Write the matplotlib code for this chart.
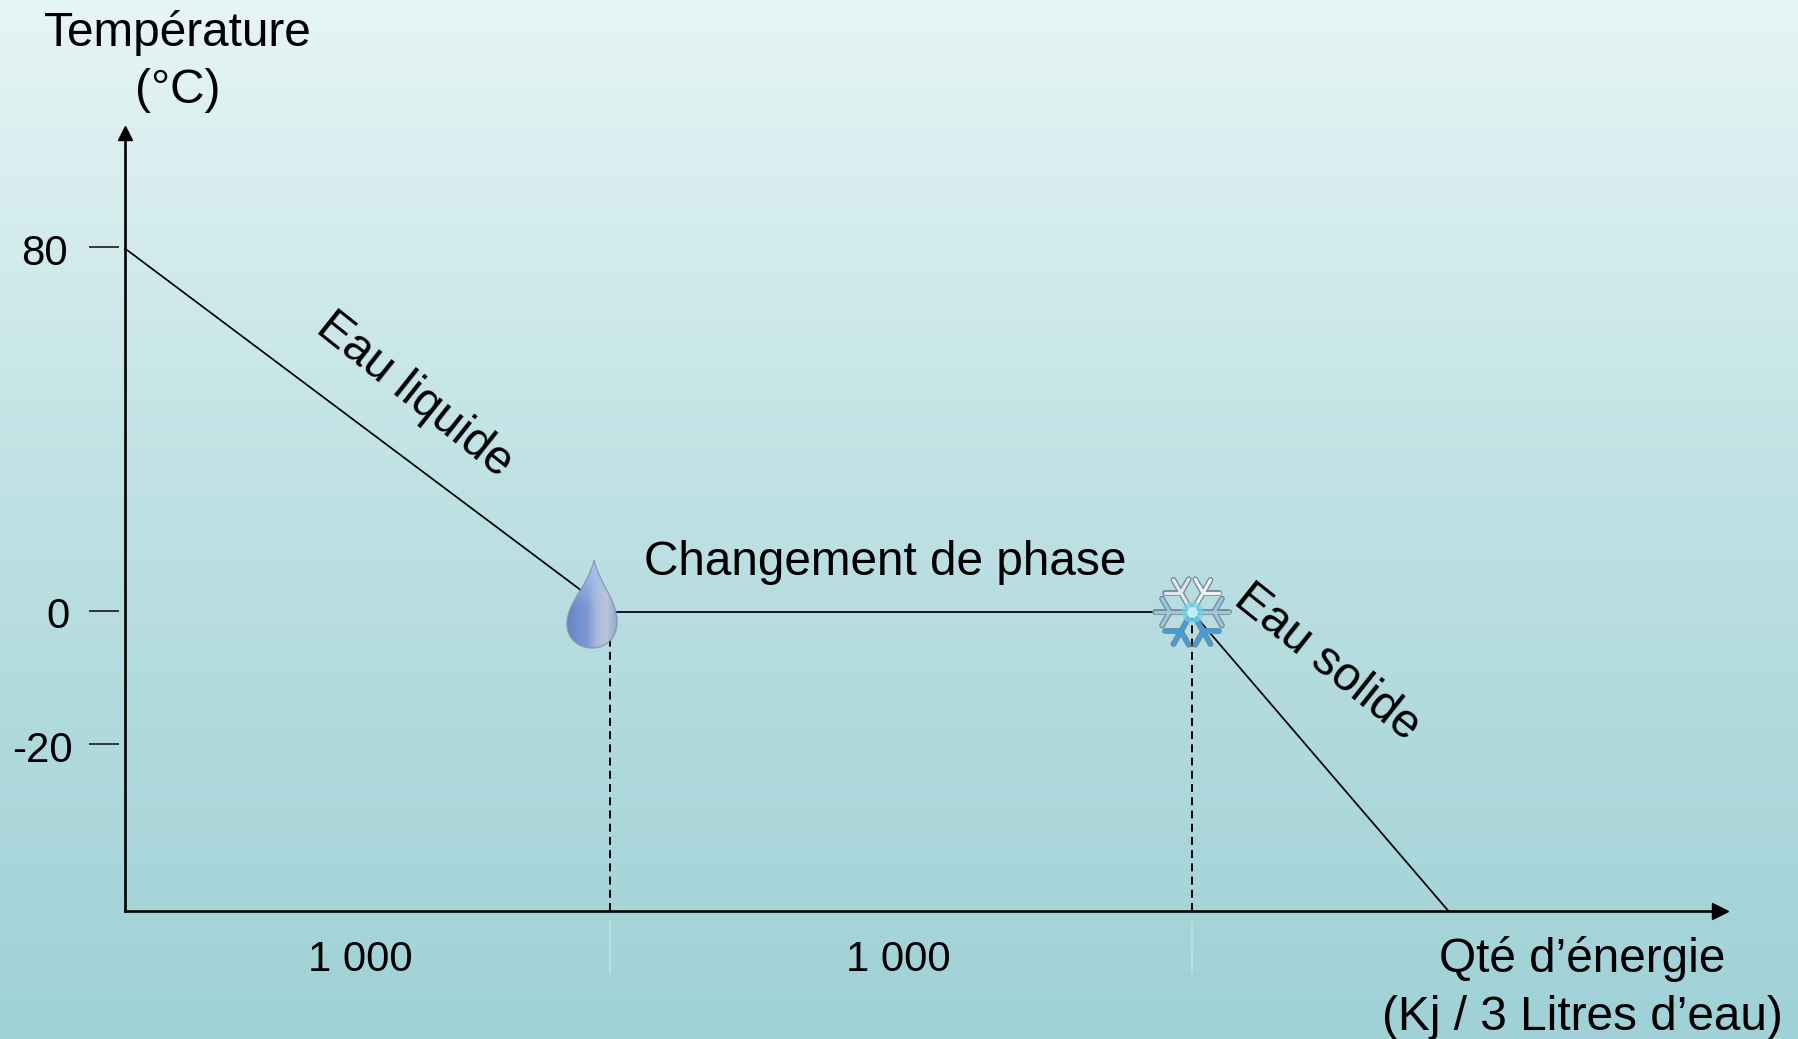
import numpy as np
import matplotlib
matplotlib.use("Agg")
import matplotlib.pyplot as plt
from matplotlib.path import Path
from matplotlib.patches import PathPatch
from matplotlib.colors import LinearSegmentedColormap

plt.rcParams["font.family"] = ["Liberation Sans", "DejaVu Sans"]

# cooling curve of 3 litres of water
energy = [0, 1000, 2000, 2440]
temperature = [80, 0, 0, -45]
phase_limits = [1000, 2000]
temp_ticks = [80, 0, -20]
temp_tick_labels = ["80", "0", "-20"]
section_labels = ["1 000", "1 000"]

W, H = 1798, 1039
BIG, SMALL = 34.4, 30.2

# the drawing is schematic, so each axis is stretched piecewise
x_data = [0, 1000, 2000, 2440, 2920]
x_px = [125, 610, 1192, 1448, 1720]
y_data = [-45, -20, 0, 80, 105.5]
y_px = [910.5, 745, 612, 248.5, 133]
y_up = [-v for v in y_px]


def fwd_x(v): return np.interp(v, x_data, x_px)
def inv_x(v): return np.interp(v, x_px, x_data)
def fwd_y(v): return np.interp(v, y_data, y_up)
def inv_y(v): return np.interp(v, y_up, y_data)


fig = plt.figure(figsize=(W / 100, H / 100), dpi=100)

# background gradient
bg = fig.add_axes([0, 0, 1, 1], zorder=0)
bg_cmap = LinearSegmentedColormap.from_list("bg", ["#E6F5F5", "#BDE0E3", "#9FD1D6"])
bg.imshow(np.linspace(0, 1, 256)[:, None], cmap=bg_cmap, aspect="auto", vmin=0, vmax=1)
bg.axis("off")

# main axes
ax = fig.add_axes([125 / W, 1 - 910.5 / H, (1720 - 125) / W, (910.5 - 133) / H], zorder=1)
ax.patch.set_alpha(0)
ax.set_xscale("function", functions=(fwd_x, inv_x))
ax.set_yscale("function", functions=(fwd_y, inv_y))
ax.set_xlim(x_data[0], x_data[-1])
ax.set_ylim(y_data[0], y_data[-1])
ax.set_xticks([])
ax.set_yticks([])
ax.minorticks_off()
for s in ("top", "right"):
    ax.spines[s].set_visible(False)
for s in ("left", "bottom"):
    ax.spines[s].set_linewidth(1.9)
ax.plot(1, 0, ">", color="k", ms=11, transform=ax.transAxes, clip_on=False)
ax.plot(0, 1, "^", color="k", ms=10, transform=ax.transAxes, clip_on=False)

ax.plot(energy, temperature, color="k", lw=1.25, clip_on=False)
ax.vlines(phase_limits, y_data[0], 0, color="k", lw=1.4, linestyles=[(0, (4.1, 2.7))])

# y tick dashes stand off from the axis line, sitting just above the value
axis_w = 1595
tick_lift = matplotlib.transforms.ScaledTranslation(0, 1.5 / 100, fig.dpi_scale_trans)
for t in temp_ticks:
    ax.plot([-36 / axis_w, -6 / axis_w], [t, t], color="#222222", lw=1.25,
            transform=ax.get_yaxis_transform() + tick_lift, clip_on=False,
            solid_capstyle="butt")

# pale marks under the x axis at the phase limits
for e in phase_limits:
    ax.plot([e, e], [-11 / 777, -62 / 777], color="#BFE0E3", lw=1.3,
            transform=ax.get_xaxis_transform(), clip_on=False)


def label(x, y, s, size=BIG, **kw):
    kw.setdefault("va", "baseline")
    fig.text(x / W, 1 - y / H, s, fontsize=size, ha="center", color="k", **kw)


label(178, 46, "Température")
label(178, 103, "(°C)")
label(1582, 972, "Qté d’énergie")
label(1582, 1030, "(Kj / 3 Litres d’eau)")
label(885, 575, "Changement de phase")
label(415, 395, "Eau liquide", rotation=-38.5, va="center")
label(1327, 663, "Eau solide", rotation=-38.5, va="center")

for s, x, y in zip(temp_tick_labels, [44, 58, 42], [265, 628, 762]):
    label(x, y, s, size=SMALL)
for s, x in zip(section_labels, [360, 898]):
    label(x, 971, s, size=SMALL)

# overlay in pixel space for the two icons
deco = fig.add_axes([0, 0, 1, 1], zorder=2)
deco.patch.set_alpha(0)
deco.axis("off")

# water drop, side shading plus a lighter top
drop_path = Path(
    [(594, 560), (589, 585), (567, 602), (567, 624), (567, 640), (580, 648), (592, 648),
     (606, 648), (617, 638), (617, 622), (617, 600), (600, 585), (594, 560), (594, 560)],
    [Path.MOVETO, Path.CURVE4, Path.CURVE4, Path.CURVE4, Path.CURVE4, Path.CURVE4, Path.CURVE4,
     Path.CURVE4, Path.CURVE4, Path.CURVE4, Path.CURVE4, Path.CURVE4, Path.CURVE4, Path.CLOSEPOLY],
)
drop_cmap = LinearSegmentedColormap.from_list(
    "drop", ["#6583BF", "#7090CE", "#7C98D6", "#A9B8D8", "#BAC6D6", "#93A9D2"])
drop_edge = PathPatch(drop_path, fc="none", ec="#8492A8", lw=1.0, alpha=0.8, zorder=5)
deco.add_patch(drop_edge)
drop_img = deco.imshow(np.linspace(0, 1, 64)[None, :], cmap=drop_cmap, aspect="auto",
                       extent=(567, 617, 648, 560), zorder=3, interpolation="bilinear")
drop_img.set_clip_path(drop_edge)
top_light = np.zeros((64, 1, 4))
top_light[..., :3] = matplotlib.colors.to_rgb("#A9C6EE")
top_light[:, 0, 3] = np.clip(1 - np.linspace(0, 1, 64) / 0.55, 0, 1) * 0.9
light_img = deco.imshow(top_light, aspect="auto", extent=(567, 617, 648, 560), zorder=4,
                        interpolation="bilinear")
light_img.set_clip_path(drop_edge)

# snowflake
cx, cy, R = 1192, 612, 37
arms = [(0, "#9CC8DC"), (180, "#9CC8DC"), (60, "#EDF5F3"), (120, "#DDE9EC"),
        (-60, "#3E9EDE"), (-120, "#3E9EDE")]
for lw_out, edge in ((4.2, True), (2.3, False)):
    for ang, col in arms:
        a = np.radians(ang)
        d = np.array([np.cos(a), -np.sin(a)])
        c0 = np.array([cx, cy])
        segs = [(c0, c0 + R * d)]
        mid = c0 + 0.6 * R * d
        for turn in (60, -60):
            b = np.radians(ang + turn)
            segs.append((mid, mid + 0.42 * R * np.array([np.cos(b), -np.sin(b)])))
        for p, q in segs:
            deco.plot([p[0], q[0]], [p[1], q[1]], lw=lw_out, color="#76899A" if edge else col,
                      solid_capstyle="round", zorder=5)
deco.scatter([cx], [cy], s=240, color="#6FD3E8", alpha=0.7, lw=0, zorder=6)
deco.scatter([cx], [cy], s=60, color="#BDEFF4", lw=0, zorder=7)

deco.set_xlim(0, W)
deco.set_ylim(H, 0)

fig.savefig("out.png", dpi=100)
